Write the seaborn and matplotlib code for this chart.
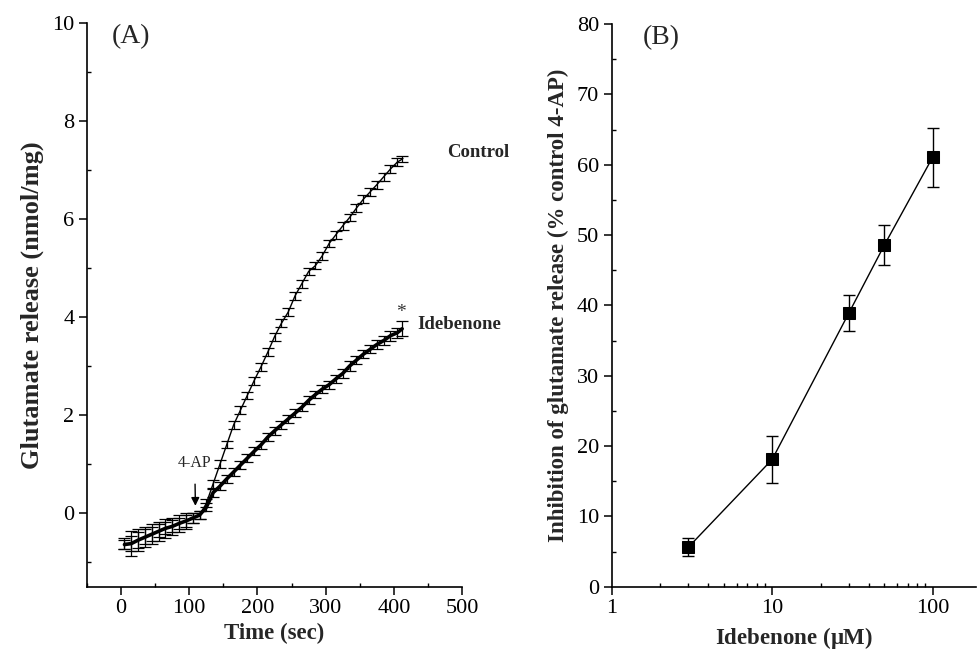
import numpy as np
import pandas as pd
import matplotlib
matplotlib.use("Agg")
import matplotlib.pyplot as plt
import seaborn as sns
from matplotlib.ticker import MultipleLocator, LogLocator, NullFormatter, FixedLocator

# panel A: glutamate release time course
time_sec = [5, 15, 25, 35, 45, 55, 65, 75, 85, 95, 105, 115, 125, 135, 145,
            155, 165, 175, 185, 195, 205, 215, 225, 235, 245, 255, 265, 275,
            285, 295, 305, 315, 325, 335, 345, 355, 365, 375, 385, 395, 405, 412]
control = [-0.62, -0.62, -0.55, -0.48, -0.42, -0.36, -0.30, -0.26, -0.21,
           -0.16, -0.10, -0.04, 0.20, 0.60, 1.00, 1.40, 1.80, 2.10, 2.40,
           2.70, 2.98, 3.28, 3.60, 3.87, 4.10, 4.43, 4.68, 4.93, 5.05, 5.25,
           5.50, 5.68, 5.86, 6.03, 6.22, 6.40, 6.55, 6.70, 6.86, 7.02, 7.16, 7.22]
control_err = [0.12, 0.15, 0.16, 0.15, 0.14, 0.13, 0.13, 0.12, 0.12, 0.12,
               0.10, 0.08, 0.08, 0.08, 0.08, 0.08, 0.08, 0.08, 0.08, 0.08,
               0.08, 0.08, 0.08, 0.08, 0.08, 0.08, 0.08, 0.08, 0.08, 0.08,
               0.08, 0.08, 0.08, 0.08, 0.08, 0.08, 0.08, 0.08, 0.08, 0.08,
               0.08, 0.06]
idebenone = [-0.64, -0.62, -0.55, -0.49, -0.43, -0.37, -0.31, -0.27, -0.21,
             -0.16, -0.10, -0.04, 0.12, 0.42, 0.55, 0.70, 0.84, 0.98, 1.12,
             1.26, 1.39, 1.55, 1.68, 1.80, 1.92, 2.04, 2.16, 2.30, 2.42, 2.53,
             2.62, 2.74, 2.85, 3.00, 3.12, 3.24, 3.34, 3.44, 3.52, 3.62, 3.68, 3.76]
idebenone_err = [0.10, 0.25, 0.22, 0.20, 0.20, 0.20, 0.20, 0.18, 0.18, 0.16,
                 0.10, 0.08, 0.08, 0.08, 0.08, 0.08, 0.08, 0.08, 0.08, 0.08,
                 0.08, 0.08, 0.08, 0.08, 0.08, 0.08, 0.08, 0.08, 0.08, 0.08,
                 0.08, 0.08, 0.10, 0.10, 0.08, 0.08, 0.08, 0.10, 0.10, 0.10,
                 0.10, 0.15]

# panel B: concentration response
conc_um = [3, 10, 30, 50, 100]
inhibition = [5.6, 18.1, 38.9, 48.6, 61.1]
inhibition_err = [1.3, 3.4, 2.6, 2.9, 4.2]

sns.set_style("ticks")
plt.rcParams['font.family'] = ['Liberation Serif', 'DejaVu Serif']
plt.rcParams['mathtext.fontset'] = 'stix'

fig = plt.figure(figsize=(9.77, 6.53), dpi=100)
axA = fig.add_axes([0.089, 0.1015, 0.384, 0.8635])
axB = fig.add_axes([0.626, 0.1015, 0.373, 0.8615])

dfA = pd.DataFrame({"t": time_sec, "control": control, "idebenone": idebenone})

# control trace
sns.lineplot(data=dfA, x="t", y="control", ax=axA, color="black", lw=1.0)
axA.errorbar(time_sec, control, yerr=control_err, fmt="none", ecolor="black",
             elinewidth=0.9, capsize=4, capthick=0.9)
# idebenone trace (thicker)
sns.lineplot(data=dfA, x="t", y="idebenone", ax=axA, color="black", lw=2.6)
axA.errorbar(time_sec, idebenone, yerr=idebenone_err, fmt="none", ecolor="black",
             elinewidth=0.9, capsize=4, capthick=0.9)

axA.set_xlim(-50, 500)
axA.set_ylim(-1.5, 10)
axA.xaxis.set_major_locator(FixedLocator([0, 100, 200, 300, 400, 500]))
axA.xaxis.set_minor_locator(MultipleLocator(50))
axA.yaxis.set_major_locator(FixedLocator([0, 2, 4, 6, 8, 10]))
axA.yaxis.set_minor_locator(FixedLocator([-1, 1, 3, 5, 7, 9]))
axA.set_xlabel("Time (sec)", fontsize=16.5, fontweight="bold", labelpad=3)
axA.set_ylabel("Glutamate release (nmol/mg)", fontsize=19, fontweight="bold", labelpad=6)

axA.text(0.066, 0.998, "(A)", transform=axA.transAxes, fontsize=20, va="top", ha="left")
axA.text(478, 7.36, "Control", fontsize=13.5, fontweight="bold", va="center", ha="left")
axA.text(434, 3.85, "Idebenone", fontsize=13.5, fontweight="bold", va="center", ha="left")
axA.text(410, 4.1, "*", fontsize=14, va="center", ha="center", color="#333333")
axA.annotate("4-AP", xy=(109, 0.15), xytext=(108, 1.02), fontsize=11.5,
             ha="center", va="center",
             arrowprops=dict(arrowstyle="-|>", color="black", lw=1.0,
                             shrinkA=7, shrinkB=0, mutation_scale=12))

# panel B
dfB = pd.DataFrame({"conc": conc_um, "inh": inhibition})
sns.lineplot(data=dfB, x="conc", y="inh", ax=axB, color="black", lw=1.0,
             marker="s", markersize=9, markeredgecolor="black",
             markerfacecolor="black")
axB.errorbar(conc_um, inhibition, yerr=inhibition_err, fmt="none", ecolor="black",
             elinewidth=1.0, capsize=4, capthick=1.0)
axB.set_xscale("log")
axB.set_xlim(1, 186)
axB.set_ylim(0, 80)
axB.xaxis.set_major_locator(FixedLocator([1, 10, 100]))
axB.xaxis.set_major_formatter(matplotlib.ticker.FixedFormatter(["1", "10", "100"]))
axB.xaxis.set_minor_locator(LogLocator(base=10, subs=np.arange(2, 10), numticks=20))
axB.xaxis.set_minor_formatter(NullFormatter())
axB.yaxis.set_major_locator(MultipleLocator(10))
axB.yaxis.set_minor_locator(MultipleLocator(5))
axB.set_xlabel(r"Idebenone ($\mathregular{\mu}$M)", fontsize=16.5, fontweight="bold", labelpad=5)
axB.set_ylabel("Inhibition of glutamate release (% control 4-AP)", fontsize=16.5,
               fontweight="bold", labelpad=6)
axB.text(0.086, 0.998, "(B)", transform=axB.transAxes, fontsize=20, va="top", ha="left")

for ax in (axA, axB):
    sns.despine(ax=ax)
    for s in ("left", "bottom"):
        ax.spines[s].set_linewidth(1.2)
        ax.spines[s].set_color("black")
    ax.tick_params(which="major", direction="out", length=6, width=1.1,
                   labelsize=16, colors="black", pad=3)
    ax.tick_params(which="minor", direction="in", length=3, width=1.0, colors="black")

fig.savefig("out.png", dpi=100)
